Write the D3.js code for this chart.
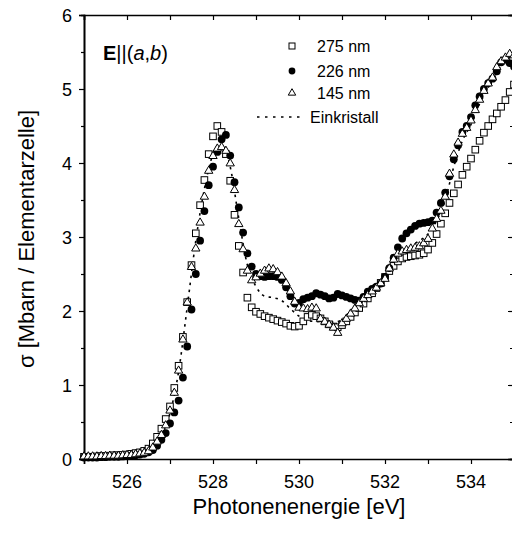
<!DOCTYPE html>
<html>
<head>
<meta charset="utf-8">
<script src="https://cdn.jsdelivr.net/npm/d3@7/dist/d3.min.js"></script>
<style>
  body { margin: 0; background: #fff; }
  text { font-family: "Liberation Sans", Arial, sans-serif; fill: #000; }
</style>
</head>
<body>
<svg id="chart" width="512" height="534"></svg>
<script>
// photon energy grid of the measured points (eV)
var energies = [525.0,525.1,525.2,525.3,525.4,525.5,525.6,525.7,525.8,525.9,
  526.0,526.1,526.2,526.3,526.4,526.5,526.6,526.7,526.8,526.9,
  527.0,527.1,527.2,527.3,527.4,527.5,527.6,527.7,527.8,527.9,
  528.0,528.1,528.2,528.3,528.4,528.5,528.6,528.7,528.8,528.9,
  529.0,529.1,529.2,529.3,529.4,529.5,529.6,529.7,529.8,529.9,
  530.0,530.1,530.2,530.3,530.4,530.5,530.6,530.7,530.8,530.9,
  531.0,531.1,531.2,531.3,531.4,531.5,531.6,531.7,531.8,531.9,
  532.0,532.1,532.2,532.3,532.4,532.5,532.6,532.7,532.8,532.9,
  533.0,533.1,533.2,533.3,533.4,533.5,533.6,533.7,533.8,533.9,
  534.0,534.1,534.2,534.3,534.4,534.5,534.6,534.7,534.8,534.9,535.0];

// 275 nm film (open squares)
var sigma275 = [0.03,0.03,0.03,0.035,0.04,0.04,0.045,0.05,0.05,0.055,
  0.06,0.07,0.08,0.09,0.11,0.14,0.21,0.30,0.41,0.54,
  0.71,0.96,1.26,1.65,2.12,2.62,3.05,3.43,3.77,4.12,
  4.36,4.50,4.42,4.12,3.76,3.30,2.88,2.52,2.18,2.05,
  1.99,1.96,1.93,1.91,1.89,1.87,1.85,1.83,1.80,1.79,
  1.80,1.86,1.92,1.95,1.93,1.90,1.86,1.82,1.79,1.78,
  1.81,1.86,1.92,1.98,2.04,2.10,2.17,2.24,2.31,2.38,
  2.46,2.54,2.61,2.67,2.71,2.73,2.74,2.75,2.76,2.78,
  2.83,2.92,3.04,3.18,3.32,3.46,3.59,3.71,3.84,3.95,
  4.06,4.18,4.30,4.41,4.50,4.59,4.67,4.76,4.85,4.96,5.06];

// 226 nm film (filled circles)
var sigma226 = [0.02,0.02,0.02,0.02,0.025,0.025,0.03,0.03,0.03,0.035,
  0.04,0.045,0.05,0.06,0.07,0.09,0.12,0.18,0.26,0.35,
  0.48,0.63,0.79,1.10,1.52,2.02,2.50,2.95,3.35,3.70,
  3.95,4.15,4.32,4.38,4.10,3.74,3.40,3.06,2.78,2.60,
  2.50,2.47,2.46,2.47,2.47,2.46,2.42,2.32,2.20,2.10,
  2.11,2.16,2.18,2.20,2.24,2.22,2.20,2.17,2.18,2.23,
  2.21,2.19,2.17,2.15,2.14,2.19,2.26,2.30,2.33,2.37,
  2.46,2.58,2.72,2.86,2.98,3.05,3.10,3.15,3.18,3.19,
  3.20,3.22,3.33,3.46,3.60,3.82,4.05,4.24,4.42,4.50,
  4.62,4.78,4.90,5.00,5.08,5.14,5.24,5.36,5.40,5.35,5.30];

// 145 nm film (open triangles)
var sigma145 = [0.04,0.04,0.04,0.04,0.045,0.045,0.05,0.05,0.05,0.055,
  0.06,0.06,0.07,0.08,0.09,0.11,0.16,0.24,0.33,0.46,
  0.66,0.90,1.20,1.62,2.12,2.60,2.85,3.20,3.55,3.90,
  4.10,4.20,4.22,4.17,4.00,3.64,3.18,2.84,2.55,2.42,
  2.46,2.51,2.55,2.58,2.57,2.53,2.47,2.38,2.27,2.13,
  2.05,2.04,2.03,2.05,2.04,1.90,1.86,1.82,1.78,1.71,
  1.84,1.90,1.97,2.04,2.11,2.17,2.22,2.27,2.32,2.38,
  2.44,2.58,2.70,2.78,2.81,2.83,2.85,2.86,2.88,2.92,
  2.98,3.12,3.25,3.36,3.55,3.86,4.12,4.28,4.40,4.48,
  4.58,4.72,4.86,4.98,5.08,5.16,5.30,5.38,5.43,5.48,5.46];

// single crystal reference (dotted line)
var crystalE = [525.0,525.2,525.4,525.6,525.8,526.0,526.2,526.4,526.6,526.8,
  527.0,527.2,527.4,527.6,527.8,528.0,528.2,528.4,528.6,528.8,
  529.0,529.2,529.4,529.6,529.8,530.0,530.2,530.4,530.6,530.8,
  531.0,531.2,531.4,531.6,531.8,532.0,532.2,532.4,532.6,532.8,
  533.0,533.2,533.4,533.6,533.8,534.0,534.2,534.4,534.6,534.8,535.0];
var crystalSigma = [0.04,0.04,0.04,0.05,0.05,0.06,0.08,0.11,0.17,0.33,
  0.62,1.18,2.05,2.95,3.65,4.12,4.28,3.95,3.25,2.62,
  2.33,2.20,2.18,2.14,2.03,1.93,1.87,1.86,1.86,1.85,
  1.88,1.96,2.06,2.18,2.30,2.44,2.64,2.80,2.88,2.95,
  3.04,3.22,3.50,3.95,4.30,4.52,4.80,5.02,5.22,5.38,5.45];

var xTicks = [525,526,527,528,529,530,531,532,533,534,535];
var xLabels = [526,528,530,532,534];
var yTicks = [0,1,2,3,4,5,6];
var yMinor = [0.5,1.5,2.5,3.5,4.5,5.5];
var legendNames = ["275 nm", "226 nm", "145 nm", "Einkristall"];

var svg = d3.select("#chart");
var margin = {top: 15, left: 84};
var width = 430, height = 444;

var xScale = d3.scaleLinear().domain([525, 535]).range([0, width]);
var yScale = d3.scaleLinear().domain([0, 6]).range([height, 0]);

var chart = svg.append("g")
  .attr("transform", "translate(" + margin.left + "," + margin.top + ")");

// frame axes
chart.append("g")
  .attr("transform", "translate(0," + height + ")")
  .call(d3.axisBottom(xScale).tickValues(xTicks).tickSize(5).tickFormat(""));
chart.append("g")
  .call(d3.axisTop(xScale).tickValues(xTicks).tickSize(-5).tickFormat(""));
chart.append("g")
  .call(d3.axisLeft(yScale).tickValues(yTicks).tickSize(5).tickFormat(""));
chart.append("g")
  .call(d3.axisLeft(yScale).tickValues(yMinor).tickSize(3).tickFormat(""));
chart.append("g")
  .attr("transform", "translate(" + width + ",0)")
  .call(d3.axisRight(yScale).tickValues(yTicks).tickSize(-6).tickFormat(""));
chart.append("g")
  .attr("transform", "translate(" + width + ",0)")
  .call(d3.axisRight(yScale).tickValues(yMinor).tickSize(-4).tickFormat(""));

chart.selectAll(".domain").attr("stroke-width", 1.6).attr("stroke", "#000");
chart.selectAll(".tick line").attr("stroke-width", 1.2).attr("stroke", "#000");

// tick labels
chart.selectAll(".xlab")
  .data(xLabels)
  .enter()
  .append("text")
  .attr("x", function(d) { return xScale(d); })
  .attr("y", height + 29)
  .attr("text-anchor", "middle")
  .style("font-size", "18px")
  .text(function(d) { return d; });

chart.selectAll(".ylab")
  .data(yTicks)
  .enter()
  .append("text")
  .attr("x", -12)
  .attr("y", function(d) { return yScale(d) + 6.5; })
  .attr("text-anchor", "end")
  .style("font-size", "18px")
  .text(function(d) { return d; });

// single crystal curve
var line = d3.line()
  .x(function(d) { return xScale(d[0]); })
  .y(function(d) { return yScale(d[1]); })
  .curve(d3.curveMonotoneX);

chart.append("path")
  .datum(crystalE.map(function(e, i) { return [e, crystalSigma[i]]; }))
  .attr("d", line)
  .attr("fill", "none")
  .attr("stroke", "#000")
  .attr("stroke-width", 1.6)
  .attr("stroke-dasharray", "2.5,4.5");

// markers
var pts275 = energies.map(function(e, i) { return [e, sigma275[i]]; });
var pts226 = energies.map(function(e, i) { return [e, sigma226[i]]; });
var pts145 = energies.map(function(e, i) { return [e, sigma145[i]]; });

chart.selectAll(".sq")
  .data(pts275)
  .enter()
  .append("rect")
  .attr("x", function(d) { return xScale(d[0]) - 3.3; })
  .attr("y", function(d) { return yScale(d[1]) - 3.3; })
  .attr("width", 6.6)
  .attr("height", 6.6)
  .attr("fill", "#fff")
  .attr("stroke", "#000")
  .attr("stroke-width", 1);

chart.selectAll(".ci")
  .data(pts226)
  .enter()
  .append("circle")
  .attr("cx", function(d) { return xScale(d[0]); })
  .attr("cy", function(d) { return yScale(d[1]); })
  .attr("r", 3.9)
  .attr("fill", "#000");

var tri = d3.symbol().type(d3.symbolTriangle).size(30);
chart.selectAll(".tr")
  .data(pts145)
  .enter()
  .append("path")
  .attr("d", tri)
  .attr("transform", function(d) { return "translate(" + xScale(d[0]) + "," + (yScale(d[1]) + 0.5) + ")"; })
  .attr("fill", "#fff")
  .attr("stroke", "#000")
  .attr("stroke-width", 1);

// legend
var legend = svg.append("g");
var legY = [46, 71, 93, 117];

legend.append("rect")
  .attr("x", 289).attr("y", legY[0] - 3).attr("width", 6).attr("height", 6)
  .attr("fill", "#fff").attr("stroke", "#000").attr("stroke-width", 1);
legend.append("circle")
  .attr("cx", 292).attr("cy", legY[1]).attr("r", 3.4).attr("fill", "#000");
legend.append("path")
  .attr("d", d3.symbol().type(d3.symbolTriangle).size(24))
  .attr("transform", "translate(292," + legY[2] + ")")
  .attr("fill", "#fff").attr("stroke", "#000").attr("stroke-width", 1);
legend.append("line")
  .attr("x1", 257).attr("x2", 301).attr("y1", legY[3]).attr("y2", legY[3])
  .attr("stroke", "#000").attr("stroke-width", 1.5)
  .attr("stroke-dasharray", "2.5,5.5");

legend.selectAll(".lt")
  .data(legendNames)
  .enter()
  .append("text")
  .attr("x", function(d, i) { return i == 3 ? 310 : 317; })
  .attr("y", function(d, i) { return legY[i] + 6; })
  .style("font-size", "16px")
  .text(function(d) { return d; });

// panel label E||(a,b)
var lab = svg.append("text")
  .attr("x", 103)
  .attr("y", 60)
  .style("font-size", "20px");
lab.append("tspan").style("font-weight", "bold").text("E");
lab.append("tspan").text("||(");
lab.append("tspan").style("font-style", "italic").text("a");
lab.append("tspan").text(",");
lab.append("tspan").style("font-style", "italic").text("b");
lab.append("tspan").text(")");

// axis titles
svg.append("text")
  .attr("x", 299)
  .attr("y", 514)
  .attr("text-anchor", "middle")
  .style("font-size", "22px")
  .text("Photonenenergie [eV]");

svg.append("text")
  .attr("transform", "translate(34,239) rotate(-90)")
  .attr("text-anchor", "middle")
  .style("font-size", "22px")
  .text("σ [Mbarn / Elementarzelle]");
</script>
</body>
</html>
